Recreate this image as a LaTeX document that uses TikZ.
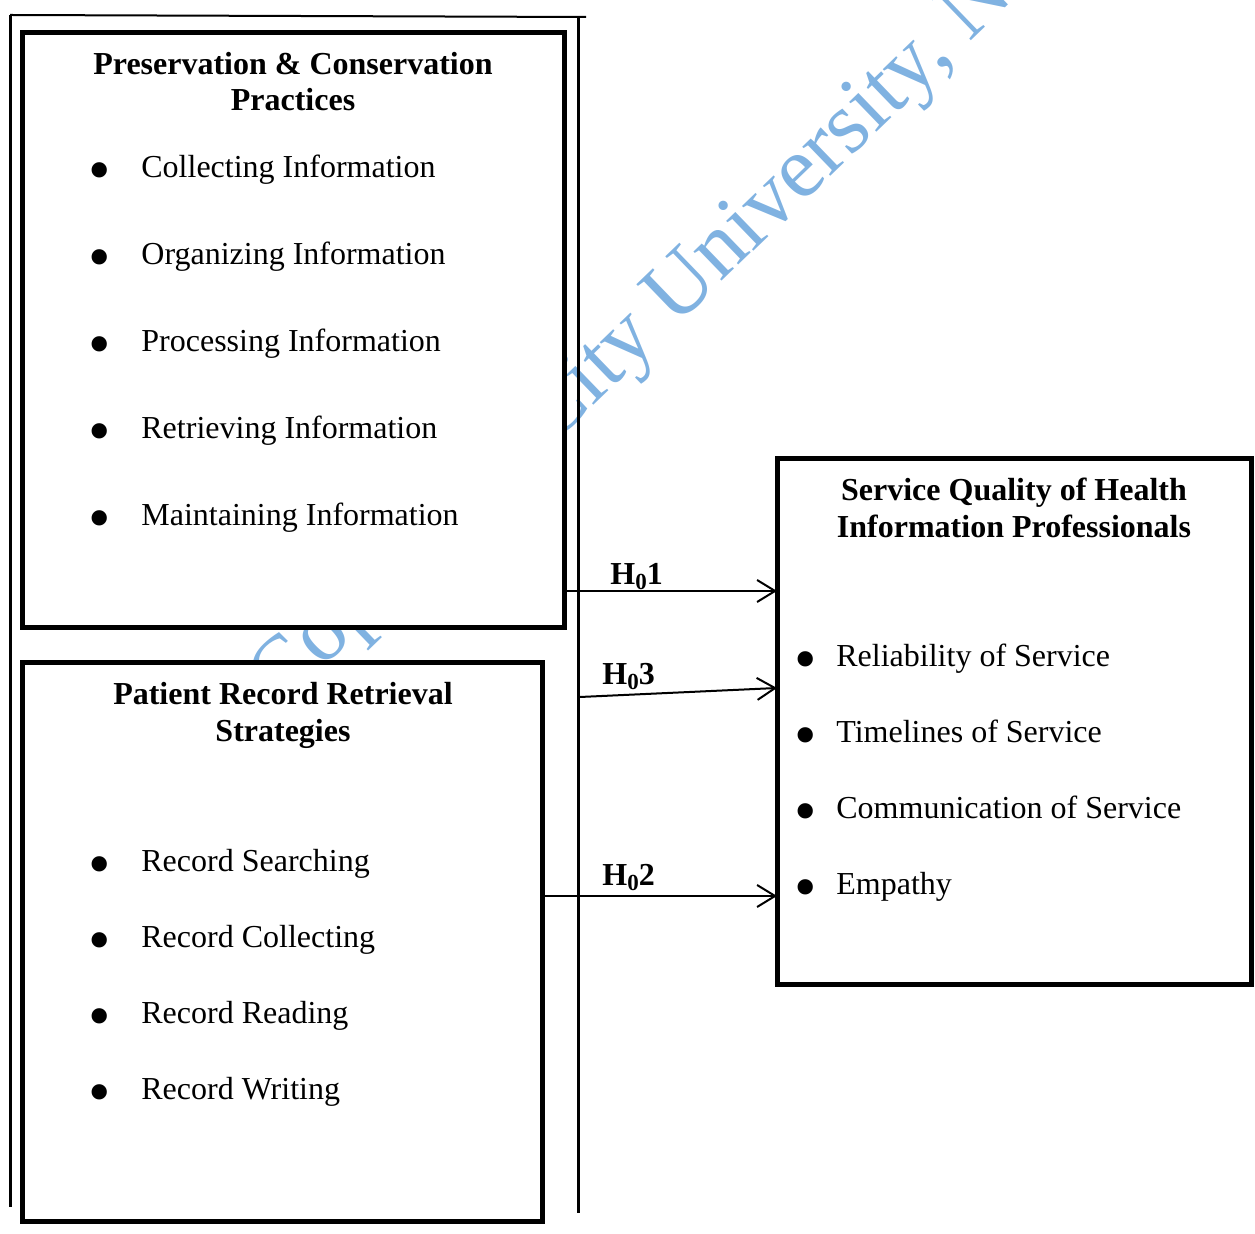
\documentclass[tikz,border=0pt]{standalone}
\usepackage{fontspec}
\setmainfont{Liberation Serif}
\usetikzlibrary{arrows.meta}
\definecolor{wmblue}{RGB}{128,178,225}
\newcommand{\hyp}[1]{H\raisebox{-0.3ex}{\fontsize{11.5}{11.5}\selectfont 0}#1}
\begin{document}
\begin{tikzpicture}[x=0.5pt,y=-0.5pt,
  box/.style={draw, line width=2.5pt, fill=white, rectangle, inner sep=0pt, outer sep=0pt},
  head/.style={font=\fontsize{16}{18.4}\selectfont\bfseries, anchor=base, inner sep=0pt},
  item/.style={font=\fontsize{16}{18.4}\selectfont, anchor=base west, inner sep=0pt},
  dotmark/.style={font=\fontsize{32}{32}\selectfont, anchor=center, inner sep=0pt},
  hlab/.style={font=\fontsize{16}{18.4}\selectfont\bfseries, anchor=base west, inner sep=0pt},
  arr/.style={line width=1pt, -{Straight Barb[length=9pt,width=11pt,line width=1pt]}},
  wm/.style={font=\fontsize{44}{44}\selectfont, text=wmblue, rotate=44, anchor=base west, inner sep=0pt}
]
\useasboundingbox (0,0) rectangle (1255,1234);
\clip (0,0) rectangle (1255,1234);

% watermark behind everything
\node[wm] (wm1) at (280,710) {Copy};
\node[wm] (wm2) at (550,448) {City University, N};

% thin outer frame
\draw[line width=1pt] (10,15) -- (586,17);
\draw[line width=1.5pt] (10,15) -- (10,1207);
\draw[line width=1.5pt] (578,17) -- (578,1213);

% boxes
\node[box, minimum width=271pt, minimum height=297.5pt] (b1) at (293,330.5) {};
\node[box, minimum width=260pt, minimum height=279.5pt] (b2) at (282,942.5) {};
\node[box, minimum width=237pt, minimum height=263pt] (b3) at (1014,722) {};

% connectors
\coordinate (y1) at (0,591);
\coordinate (y2) at (0,896);
\coordinate (h3s) at (580,697);
\coordinate (h3e) at (0,688);
\draw[arr] (b1.east |- y1) -- (b3.west |- y1);
\draw[arr] (h3s) -- (b3.west |- h3e);
\draw[arr] (b2.east |- y2) -- (b3.west |- y2);
\node[hlab] (l1) at (610,585) {\hyp{1}};
\node[hlab] (l3) at (602,685) {\hyp{3}};
\node[hlab] (l2) at (602,886) {\hyp{2}};

% box 1 text
\node[head] (t1a) at (293,75) {Preservation \& Conservation};
\node[head] (t1b) at (293,111) {Practices};
\foreach \yy/\txt [count=\i] in {178/Collecting Information, 265/Organizing Information, 352/Processing Information, 439/Retrieving Information, 526/Maintaining Information}{
  \node[dotmark] (d1\i) at (100,\yy-1) {\textbullet};
  \node[item] (i1\i) at (141,\yy) {\txt};
}

% box 2 text
\node[head] (t2a) at (283,705) {Patient Record Retrieval};
\node[head] (t2b) at (283,742) {Strategies};
\foreach \yy/\txt [count=\i] in {872/Record Searching, 948/Record Collecting, 1024/Record Reading, 1100/Record Writing}{
  \node[dotmark] (d2\i) at (100,\yy-1) {\textbullet};
  \node[item] (i2\i) at (141,\yy) {\txt};
}

% box 3 text
\node[head] (t3a) at (1014,501) {Service Quality of Health};
\node[head] (t3b) at (1014,538) {Information Professionals};
\foreach \yy/\txt [count=\i] in {667/Reliability of Service, 743/Timelines of Service, 819/Communication of Service, 895/Empathy}{
  \node[dotmark] (d3\i) at (806,\yy-1) {\textbullet};
  \node[item] (i3\i) at (836,\yy) {\txt};
}
\end{tikzpicture}
\end{document}
